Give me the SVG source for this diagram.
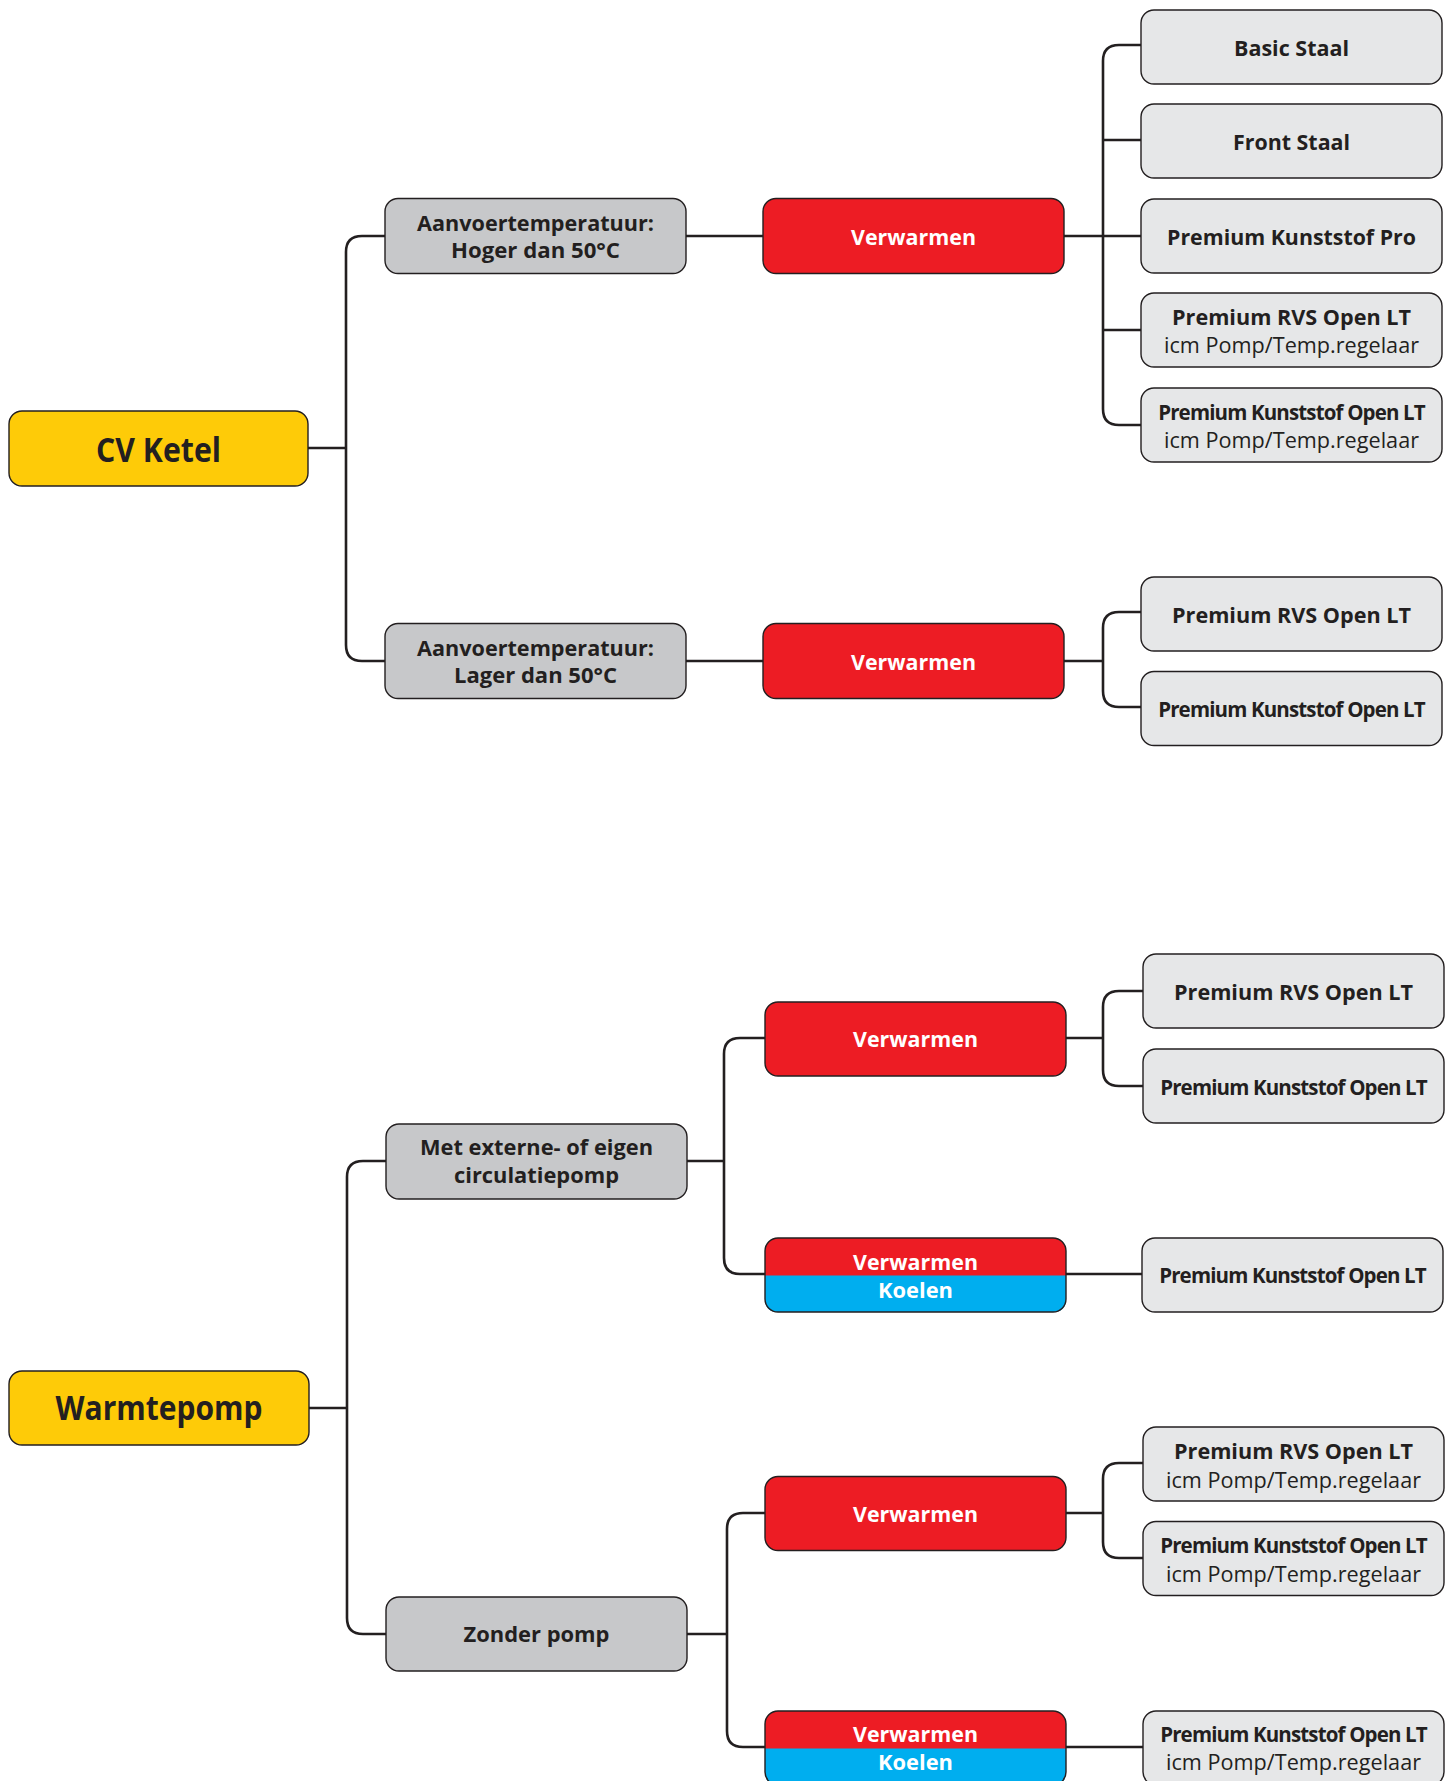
<svg xmlns="http://www.w3.org/2000/svg" width="1454" height="1781" viewBox="0 0 1454 1781">
<style>
.bg{fill:#ffffff}
.conn{fill:none;stroke:#231f20;stroke-width:2.6}
.box{stroke:#231f20;stroke-width:1.4}
.root{fill:#fecb08}
.cat{fill:#c7c8ca}
.heat{fill:#ed1c24}
.cool{fill:#00aeef}
.prod{fill:#e6e7e8}
.outline{fill:none;stroke:#231f20;stroke-width:1.4}
text{font-family:"Open Sans","Noto Sans","Liberation Sans",sans-serif;text-anchor:middle;fill:#231f20}
.t-root{font-size:34px;font-weight:700}
.t-cat{font-size:21px;font-weight:700}
.t-w{font-size:22px;font-weight:700;fill:#ffffff}
.t-p{font-size:22px;font-weight:700}
.t-k{font-size:20.5px;font-weight:700;letter-spacing:-0.85px}
.t-s{font-size:21px;font-weight:400}
</style>
<rect class="bg" x="0" y="0" width="1454" height="1781"/>

<g id="connectors">
  <path class="conn" d="M308,448 H346"/>
  <path class="conn" d="M385,236 H362 Q346,236 346,252 V645 Q346,661 362,661 H385"/>
  <path class="conn" d="M686,236 H763"/>
  <path class="conn" d="M686,661 H763"/>
  <path class="conn" d="M1064,236 H1141"/>
  <path class="conn" d="M1141,45 H1119 Q1103,45 1103,61 V409 Q1103,425 1119,425 H1141"/>
  <path class="conn" d="M1103,140 H1141"/>
  <path class="conn" d="M1103,330 H1141"/>
  <path class="conn" d="M1064,661 H1103"/>
  <path class="conn" d="M1141,612 H1119 Q1103,612 1103,628 V691 Q1103,707 1119,707 H1141"/>

  <path class="conn" d="M309,1408 H347"/>
  <path class="conn" d="M386,1161 H363 Q347,1161 347,1177 V1618 Q347,1634 363,1634 H386"/>
  <path class="conn" d="M687,1161 H724"/>
  <path class="conn" d="M765,1038 H740 Q724,1038 724,1054 V1258 Q724,1274 740,1274 H765"/>
  <path class="conn" d="M1066,1038 H1103"/>
  <path class="conn" d="M1143,991 H1119 Q1103,991 1103,1007 V1070 Q1103,1086 1119,1086 H1143"/>
  <path class="conn" d="M1066,1274 H1143"/>
  <path class="conn" d="M687,1634 H727"/>
  <path class="conn" d="M765,1513 H743 Q727,1513 727,1529 V1731 Q727,1747 743,1747 H765"/>
  <path class="conn" d="M1066,1513 H1103"/>
  <path class="conn" d="M1143,1463 H1119 Q1103,1463 1103,1479 V1542 Q1103,1558 1119,1558 H1143"/>
  <path class="conn" d="M1066,1747 H1143"/>
</g>

<!-- CV Ketel section -->
<g id="cv-ketel">
  <rect class="box root" x="9" y="411" width="299" height="75" rx="13"/>
  <text class="t-root" x="158.5" y="462" textLength="125" lengthAdjust="spacingAndGlyphs">CV Ketel</text>
</g>
<g id="cv-hoger">
  <rect class="box cat" x="385" y="198.5" width="301" height="75" rx="13"/>
  <text class="t-cat" x="535.5" y="230.5" textLength="237" lengthAdjust="spacingAndGlyphs">Aanvoertemperatuur:</text>
  <text class="t-cat" x="535.5" y="258" textLength="169" lengthAdjust="spacingAndGlyphs">Hoger dan 50°C</text>
</g>
<g id="cv-lager">
  <rect class="box cat" x="385" y="623.5" width="301" height="75" rx="13"/>
  <text class="t-cat" x="535.5" y="655.5" textLength="237" lengthAdjust="spacingAndGlyphs">Aanvoertemperatuur:</text>
  <text class="t-cat" x="535.5" y="683" textLength="163" lengthAdjust="spacingAndGlyphs">Lager dan 50°C</text>
</g>
<g id="cv-verwarmen-1">
  <rect class="box heat" x="763" y="198.5" width="301" height="75" rx="13"/>
  <text class="t-w" x="913.5" y="245" textLength="125" lengthAdjust="spacingAndGlyphs">Verwarmen</text>
</g>
<g id="cv-verwarmen-2">
  <rect class="box heat" x="763" y="623.5" width="301" height="75" rx="13"/>
  <text class="t-w" x="913.5" y="670" textLength="125" lengthAdjust="spacingAndGlyphs">Verwarmen</text>
</g>
<g id="cv-basic-staal">
  <rect class="box prod" x="1141" y="10" width="301" height="74" rx="13"/>
  <text class="t-p" x="1291.5" y="55.5" textLength="115" lengthAdjust="spacingAndGlyphs">Basic Staal</text>
</g>
<g id="cv-front-staal">
  <rect class="box prod" x="1141" y="104" width="301" height="74" rx="13"/>
  <text class="t-p" x="1291.5" y="149.5" textLength="117" lengthAdjust="spacingAndGlyphs">Front Staal</text>
</g>
<g id="cv-kunststof-pro">
  <rect class="box prod" x="1141" y="199" width="301" height="74" rx="13"/>
  <text class="t-p" x="1291.5" y="244.5" textLength="249" lengthAdjust="spacingAndGlyphs">Premium Kunststof Pro</text>
</g>
<g id="cv-rvs-open-lt-pomp">
  <rect class="box prod" x="1141" y="293" width="301" height="74" rx="13"/>
  <text class="t-p" x="1291.5" y="325" textLength="239" lengthAdjust="spacingAndGlyphs">Premium RVS Open LT</text>
  <text class="t-s" x="1291.5" y="353" textLength="255" lengthAdjust="spacingAndGlyphs">icm Pomp/Temp.regelaar</text>
</g>
<g id="cv-kunststof-open-lt-pomp">
  <rect class="box prod" x="1141" y="388" width="301" height="74" rx="13"/>
  <text class="t-k" x="1291.5" y="419.5">Premium Kunststof Open LT</text>
  <text class="t-s" x="1291.5" y="447.5" textLength="255" lengthAdjust="spacingAndGlyphs">icm Pomp/Temp.regelaar</text>
</g>
<g id="cv-rvs-open-lt">
  <rect class="box prod" x="1141" y="577" width="301" height="74" rx="13"/>
  <text class="t-p" x="1291.5" y="622.5" textLength="239" lengthAdjust="spacingAndGlyphs">Premium RVS Open LT</text>
</g>
<g id="cv-kunststof-open-lt">
  <rect class="box prod" x="1141" y="671.5" width="301" height="74" rx="13"/>
  <text class="t-k" x="1291.5" y="716.5">Premium Kunststof Open LT</text>
</g>

<!-- Warmtepomp section -->
<g id="warmtepomp">
  <rect class="box root" x="9" y="1371" width="300" height="74" rx="13"/>
  <text class="t-root" x="159" y="1420" textLength="207" lengthAdjust="spacingAndGlyphs">Warmtepomp</text>
</g>
<g id="wp-met-pomp">
  <rect class="box cat" x="386" y="1124" width="301" height="75" rx="13"/>
  <text class="t-cat" x="536.5" y="1155" textLength="233" lengthAdjust="spacingAndGlyphs">Met externe- of eigen</text>
  <text class="t-cat" x="536.5" y="1183" textLength="165" lengthAdjust="spacingAndGlyphs">circulatiepomp</text>
</g>
<g id="wp-zonder-pomp">
  <rect class="box cat" x="386" y="1597" width="301" height="74" rx="13"/>
  <text class="t-cat" x="536.5" y="1642" textLength="146" lengthAdjust="spacingAndGlyphs">Zonder pomp</text>
</g>
<g id="wp-verwarmen-1">
  <rect class="box heat" x="765" y="1002" width="301" height="74" rx="13"/>
  <text class="t-w" x="915.5" y="1047" textLength="125" lengthAdjust="spacingAndGlyphs">Verwarmen</text>
</g>
<g id="wp-verwarmen-koelen-1">
  <rect class="heat" x="765" y="1238" width="301" height="74" rx="13"/>
  <path class="cool" d="M765,1275.5 H1066 V1299 Q1066,1312 1053,1312 H778 Q765,1312 765,1299 Z"/>
  <rect class="outline" x="765" y="1238" width="301" height="74" rx="13"/>
  <text class="t-w" x="915.5" y="1270" textLength="125" lengthAdjust="spacingAndGlyphs">Verwarmen</text>
  <text class="t-w" x="915.5" y="1297.5" textLength="75" lengthAdjust="spacingAndGlyphs">Koelen</text>
</g>
<g id="wp-verwarmen-2">
  <rect class="box heat" x="765" y="1476.5" width="301" height="74" rx="13"/>
  <text class="t-w" x="915.5" y="1521.5" textLength="125" lengthAdjust="spacingAndGlyphs">Verwarmen</text>
</g>
<g id="wp-verwarmen-koelen-2">
  <rect class="heat" x="765" y="1711" width="301" height="74" rx="13"/>
  <path class="cool" d="M765,1748.5 H1066 V1772 Q1066,1785 1053,1785 H778 Q765,1785 765,1772 Z"/>
  <rect class="outline" x="765" y="1711" width="301" height="74" rx="13"/>
  <text class="t-w" x="915.5" y="1742" textLength="125" lengthAdjust="spacingAndGlyphs">Verwarmen</text>
  <text class="t-w" x="915.5" y="1770" textLength="75" lengthAdjust="spacingAndGlyphs">Koelen</text>
</g>
<g id="wp-rvs-open-lt">
  <rect class="box prod" x="1143" y="954" width="301" height="74" rx="13"/>
  <text class="t-p" x="1293.5" y="999.5" textLength="239" lengthAdjust="spacingAndGlyphs">Premium RVS Open LT</text>
</g>
<g id="wp-kunststof-open-lt">
  <rect class="box prod" x="1143" y="1049" width="301" height="74" rx="13"/>
  <text class="t-k" x="1293.5" y="1094.5">Premium Kunststof Open LT</text>
</g>
<g id="wp-kunststof-open-lt-koelen">
  <rect class="box prod" x="1142" y="1238" width="301" height="74" rx="13"/>
  <text class="t-k" x="1292.5" y="1283">Premium Kunststof Open LT</text>
</g>
<g id="wp-rvs-open-lt-pomp">
  <rect class="box prod" x="1143" y="1427" width="301" height="74" rx="13"/>
  <text class="t-p" x="1293.5" y="1459" textLength="239" lengthAdjust="spacingAndGlyphs">Premium RVS Open LT</text>
  <text class="t-s" x="1293.5" y="1487.5" textLength="255" lengthAdjust="spacingAndGlyphs">icm Pomp/Temp.regelaar</text>
</g>
<g id="wp-kunststof-open-lt-pomp">
  <rect class="box prod" x="1143" y="1521.5" width="301" height="74" rx="13"/>
  <text class="t-k" x="1293.5" y="1553">Premium Kunststof Open LT</text>
  <text class="t-s" x="1293.5" y="1581.5" textLength="255" lengthAdjust="spacingAndGlyphs">icm Pomp/Temp.regelaar</text>
</g>
<g id="wp-kunststof-open-lt-pomp-koelen">
  <rect class="box prod" x="1143" y="1711" width="301" height="74" rx="13"/>
  <text class="t-k" x="1293.5" y="1742">Premium Kunststof Open LT</text>
  <text class="t-s" x="1293.5" y="1770" textLength="255" lengthAdjust="spacingAndGlyphs">icm Pomp/Temp.regelaar</text>
</g>
</svg>
